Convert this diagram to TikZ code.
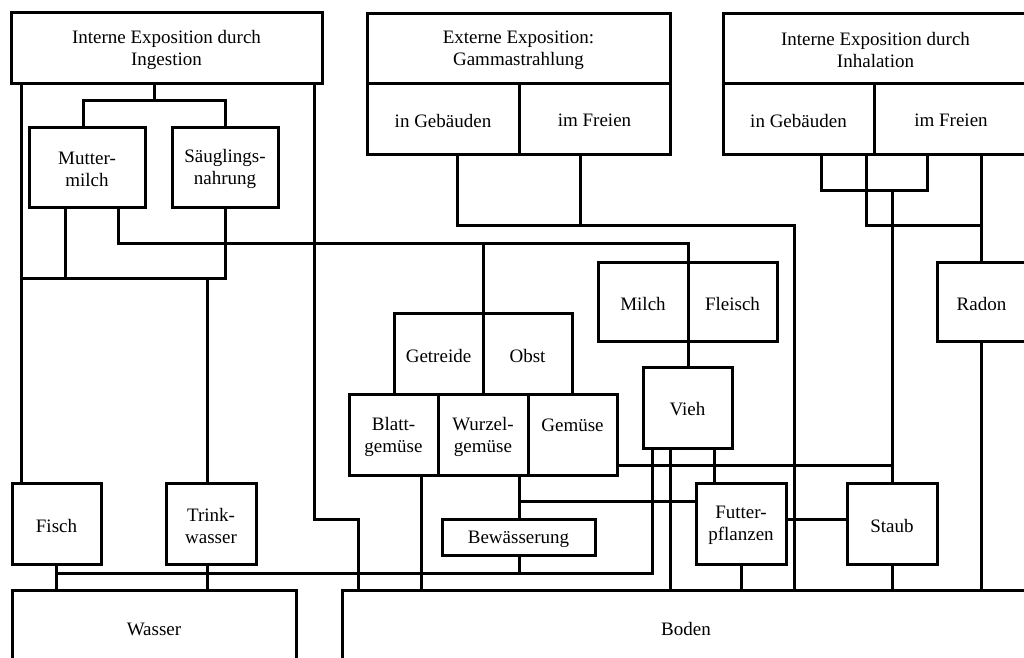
\documentclass[tikz,border=0pt]{standalone}
\usepackage{fontspec}
\setmainfont{Liberation Serif}
\tikzset{
  box/.style={draw, line width=3pt, rectangle, inner sep=0pt, outer sep=0pt},
  lbl/.style={inner sep=0pt, align=center, font=\fontsize{19}{22}\selectfont},
  conn/.style={draw, line width=3pt, line join=miter}
}
\newcommand\Bx[6]{\node[box, minimum width={#4-#2}, minimum height={#5-#3}] (#1) at ({(#2+#4)/2},{(#3+#5)/2}) {};
  \node[lbl] (#1-t) at ([yshift=-2pt]#1.center) {#6};}
\begin{document}
\begin{tikzpicture}[x=1pt,y=-1pt]
\useasboundingbox[fill=white] (0,0) rectangle (1024,657);
% boxes
\Bx{ing}{11}{12}{322}{83}{Interne Exposition durch\\Ingestion}
\Bx{mut}{29}{127}{145}{207}{Mutter-\\milch}
\Bx{sau}{172}{127}{278}{207}{Säuglings-\\nahrung}
\Bx{ext}{367}{13}{670}{83}{Externe Exposition:\\Gammastrahlung}
\Bx{egeb}{367}{83}{519}{154}{in Gebäuden}
\Bx{efrei}{519}{83}{670}{154}{im Freien}
\Bx{inh}{723}{13}{1028}{83}{Interne Exposition durch\\Inhalation}
\Bx{igeb}{723}{83}{874}{154}{in Gebäuden}
\Bx{ifrei}{874}{83}{1028}{154}{im Freien}
\Bx{milch}{598}{262}{688}{341}{Milch}
\Bx{fleisch}{688}{262}{777}{341}{Fleisch}
\Bx{radon}{937}{262}{1026}{341}{Radon}
\Bx{getr}{394}{313}{483}{394}{Getreide}
\Bx{obst}{483}{313}{572}{394}{Obst}
\Bx{blatt}{349}{394}{438}{475}{Blatt-\\gemüse}
\Bx{wurz}{438}{394}{528}{475}{Wurzel-\\gemüse}
\Bx{gem}{528}{394}{617}{475}{Gemüse\\\mbox{}}
\Bx{vieh}{643}{367}{732}{448}{Vieh}
\Bx{bew}{442}{519}{595}{555}{Bewässerung}
\Bx{futter}{696}{483}{786}{564}{Futter-\\pflanzen}
\Bx{staub}{847}{483}{937}{564}{Staub}
\Bx{fisch}{12}{483}{101}{564}{Fisch}
\Bx{trink}{166}{483}{256}{564}{Trink-\\wasser}
\Bx{wasser}{12}{590}{296}{664}{Wasser}
\Bx{boden}{342}{590}{1030}{664}{Boden}
% connectors
\path[conn] (ing.south -| 154,0) -- (154,100);
\path[conn] (mut.north -| 83,0) -- (83,100) -- (225,100) -- (sau.north -| 225,0);
\path[conn] (ing.south -| 21,0) -- (fisch.north -| 21,0);
\path[conn] (ing.south -| 314,0) -- (314,519) -- (358,519) -- (boden.north -| 358,0);
\path[conn] (mut.south -| 65,0) -- (65,278);
\path[conn] (sau.south -| 225,0) -- (225,278) -- (21,278);
\path[conn] (207,278) -- (trink.north -| 207,0);
\path[conn] (mut.south -| 118,0) -- (118,243) -- (688,243) -- (milch.north -| 688,0);
\path[conn] (483,243) -- (getr.north -| 483,0);
\path[conn] (egeb.south -| 457,0) -- (457,225) -- (794,225) -- (boden.north -| 794,0);
\path[conn] (efrei.south -| 580,0) -- (580,225);
\path[conn] (igeb.south -| 821,0) -- (821,190) -- (927,190) -- (ifrei.south -| 927,0);
\path[conn] (892,190) -- (staub.north -| 892,0);
\path[conn] (igeb.south -| 866,0) -- (866,225) -- (981,225);
\path[conn] (ifrei.south -| 981,0) -- (radon.north -| 981,0);
\path[conn] (radon.south -| 981,0) -- (boden.north -| 981,0);
\path[conn] (milch.south -| 688,0) -- (vieh.north -| 688,0);
\path[conn] (vieh.south -| 652,0) -- (652,573) -- (56,573);
\path[conn] (fisch.south -| 56,0) -- (wasser.north -| 56,0);
\path[conn] (trink.south -| 207,0) -- (wasser.north -| 207,0);
\path[conn] (vieh.south -| 670,0) -- (boden.north -| 670,0);
\path[conn] (vieh.south -| 714,0) -- (futter.north -| 714,0);
\path[conn] (gem.east |- 0,465) -- (892,465);
\path[conn] (blatt.south -| 421,0) -- (boden.north -| 421,0);
\path[conn] (wurz.south -| 519,0) -- (bew.north -| 519,0);
\path[conn] (519,501) -- (futter.west |- 0,501);
\path[conn] (bew.south -| 519,0) -- (519,573);
\path[conn] (futter.south -| 741,0) -- (boden.north -| 741,0);
\path[conn] (futter.east |- 0,519) -- (staub.west |- 0,519);
\path[conn] (staub.south -| 892,0) -- (boden.north -| 892,0);
\end{tikzpicture}
\end{document}
